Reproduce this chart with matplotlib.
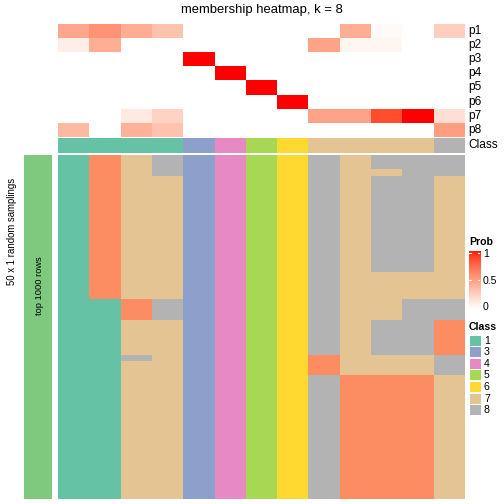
import numpy as np
import matplotlib
matplotlib.use('Agg')
import matplotlib.pyplot as plt
from matplotlib.colors import ListedColormap, LinearSegmentedColormap

plt.rcParams['font.family'] = ['Liberation Sans', 'DejaVu Sans']

# ---------------------------------------------------------------------------
# data
# ---------------------------------------------------------------------------
prob_labels = ['p1', 'p2', 'p3', 'p4', 'p5', 'p6', 'p7', 'p8']
p1 = [0.45, 0.55, 0.42, 0.32, 0, 0, 0, 0, 0, 0.42, 0.03, 0, 0.25]
p2 = [0.09, 0.42, 0, 0, 0, 0, 0, 0, 0.47, 0.05, 0.05, 0, 0]
p3 = [0, 0, 0, 0, 1, 0, 0, 0, 0, 0, 0, 0, 0]
p4 = [0, 0, 0, 0, 0, 1, 0, 0, 0, 0, 0, 0, 0]
p5 = [0, 0, 0, 0, 0, 0, 1, 0, 0, 0, 0, 0, 0]
p6 = [0, 0, 0, 0, 0, 0, 0, 1, 0, 0, 0, 0, 0]
p7 = [0, 0, 0.11, 0.23, 0, 0, 0, 0, 0.47, 0.47, 0.85, 1.0, 0.17]
p8 = [0.37, 0, 0.40, 0.31, 0, 0, 0, 0, 0, 0, 0, 0, 0.50]

sample_class = [1, 1, 1, 1, 3, 4, 5, 6, 7, 7, 7, 7, 8]

# membership per sampling, as (class, number of rows) runs for each column
col_runs = [
    [(1, 50)],
    [(2, 21), (1, 29)],
    [(7, 21), (2, 3), (7, 5), (8, 1), (7, 20)],
    [(8, 3), (7, 18), (8, 3), (7, 26)],
    [(3, 50)],
    [(4, 50)],
    [(5, 50)],
    [(6, 50)],
    [(8, 29), (2, 3), (8, 18)],
    [(7, 32), (2, 18)],
    [(8, 2), (7, 1), (8, 14), (7, 7), (8, 5), (7, 3), (2, 18)],
    [(8, 17), (7, 4), (8, 8), (7, 3), (2, 18)],
    [(8, 3), (7, 18), (8, 3), (2, 5), (8, 3), (7, 18)],
]

class_colors = {1: '#66C2A5', 2: '#FC8D62', 3: '#8DA0CB', 4: '#E78AC3',
                5: '#A6D854', 6: '#FFD92F', 7: '#E5C494', 8: '#B3B3B3'}
legend_classes = [1, 3, 4, 5, 6, 7, 8]


# ---------------------------------------------------------------------------
# white -> red ramp interpolated in Lab (like colorRamp2)
# ---------------------------------------------------------------------------
def srgb_to_lab(rgb):
    c = np.asarray(rgb, float)
    c = np.where(c > 0.04045, ((c + 0.055) / 1.055) ** 2.4, c / 12.92)
    m = np.array([[0.4124, 0.3576, 0.1805],
                  [0.2126, 0.7152, 0.0722],
                  [0.0193, 0.1192, 0.9505]])
    xyz = m @ c / np.array([0.95047, 1.0, 1.08883])
    f = np.where(xyz > 0.008856, np.cbrt(xyz), 7.787 * xyz + 16 / 116)
    return np.array([116 * f[1] - 16, 500 * (f[0] - f[1]), 200 * (f[1] - f[2])])


def lab_to_srgb(lab):
    L, a, b = lab
    fy = (L + 16) / 116
    f = np.array([fy + a / 500, fy, fy - b / 200])
    xyz = np.where(f ** 3 > 0.008856, f ** 3, (f - 16 / 116) / 7.787)
    xyz = xyz * np.array([0.95047, 1.0, 1.08883])
    m = np.array([[3.2406, -1.5372, -0.4986],
                  [-0.9689, 1.8758, 0.0415],
                  [0.0557, -0.2040, 1.0570]])
    c = m @ xyz
    c = np.where(c > 0.0031308, 1.055 * np.abs(c) ** (1 / 2.4) - 0.055, 12.92 * c)
    return np.clip(c, 0, 1)


lab_w = srgb_to_lab([1, 1, 1])
lab_r = srgb_to_lab([1, 0, 0])
ramp = [lab_to_srgb(lab_w + t * (lab_r - lab_w)) for t in np.linspace(0, 1, 256)]
prob_cmap = LinearSegmentedColormap.from_list('prob', ramp)

cls_keys = sorted(class_colors)
cls_cmap = ListedColormap([class_colors[k] for k in cls_keys])

# ---------------------------------------------------------------------------
# figure, axes placed in pixel coordinates
# ---------------------------------------------------------------------------
W = H = 504
fig = plt.figure(figsize=(W / 100, H / 100), dpi=100)


def px_axes(x0, y0, x1, y1):
    ax = fig.add_axes([x0 / W, 1 - y1 / H, (x1 - x0) / W, (y1 - y0) / H])
    ax.set_axis_off()
    return ax


HX0, HX1 = 58, 465

# probability annotation
prob = np.array([p1, p2, p3, p4, p5, p6, p7, p8])
ax_p = px_axes(HX0, 24, HX1, 137)
ax_p.imshow(prob, cmap=prob_cmap, vmin=0, vmax=1, aspect='auto', interpolation='nearest')
for i, lab in enumerate(prob_labels):
    fig.text(468 / W, 1 - (24 + 14.1 * (i + 0.5)) / H, lab, fontsize=8.6,
             va='center', ha='left')

# class annotation
ax_c = px_axes(HX0, 138, HX1, 152.7)
cidx = np.array([[cls_keys.index(c) for c in sample_class]])
ax_c.imshow(cidx, cmap=cls_cmap, vmin=-0.5, vmax=len(cls_keys) - 0.5,
            aspect='auto', interpolation='nearest')
fig.text(468 / W, 1 - 145.3 / H, 'Class', fontsize=8.6, va='center', ha='left')

# main membership heatmap
cols = []
for runs in col_runs:
    col = []
    for k, n in runs:
        col += [cls_keys.index(k)] * n
    cols.append(col)
mat = np.array(cols).T
ax_m = px_axes(HX0, 155, HX1, 499)
ax_m.imshow(mat, cmap=cls_cmap, vmin=-0.5, vmax=len(cls_keys) - 0.5,
            aspect='auto', interpolation='nearest')

# left bar
ax_l = px_axes(24, 155, 52, 499)
ax_l.add_patch(plt.Rectangle((0, 0), 1, 1, color='#7FC97F', transform=ax_l.transAxes))
fig.text(39 / W, 1 - 286 / H, 'top 1000 rows', fontsize=6.7, rotation=90,
         ha='center', va='center')
fig.text(12 / W, 1 - 231 / H, '50 x 1 random samplings', fontsize=6.9,
         rotation=90, ha='center', va='center')

# title
fig.text(261.5 / W, 1 - 10 / H, 'membership heatmap, k = 8', fontsize=9.4,
         ha='center', va='center')

# Prob legend
fig.text(469 / W, 1 - 242 / H, 'Prob', fontsize=7.6, fontweight='bold',
         ha='left', va='center')
ax_cb = px_axes(469, 251, 480, 309)
grad = np.linspace(1, 0, 200).reshape(-1, 1)
ax_cb.imshow(grad, cmap=prob_cmap, vmin=0, vmax=1, aspect='auto',
             extent=(0, 1, 0, 1))
ax_cb.set_xlim(0, 1)
ax_cb.set_ylim(0, 1)
for v in (0.5, 0.97):
    ax_cb.plot([0, 0.2], [v, v], color='white', lw=0.8)
    ax_cb.plot([0.8, 1], [v, v], color='white', lw=0.8)
for v, lab in ((1, '1'), (0.5, '0.5'), (0, '0')):
    fig.text(483 / W, 1 - (307 - 53 * v) / H, lab, fontsize=7.6,
             ha='left', va='center')

# Class legend
fig.text(469 / W, 1 - 327 / H, 'Class', fontsize=7.6, fontweight='bold',
         ha='left', va='center')
for i, k in enumerate(legend_classes):
    yc = 340.5 + 11.6 * i
    ax_b = px_axes(470, yc - 5, 481, yc + 5)
    ax_b.add_patch(plt.Rectangle((0, 0), 1, 1, color=class_colors[k],
                                 transform=ax_b.transAxes))
    fig.text(484 / W, 1 - yc / H, str(k), fontsize=7.6, ha='left', va='center')

fig.savefig('out.png', dpi=100)
